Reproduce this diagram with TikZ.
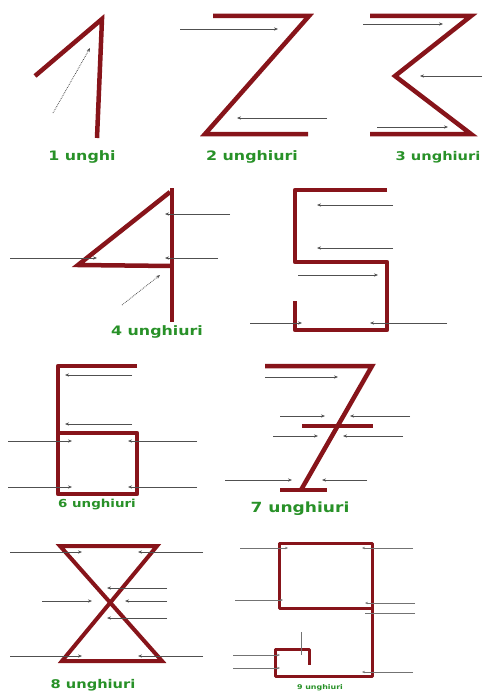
\documentclass[tikz,border=0pt]{standalone}
\usepackage{fontspec}
\usetikzlibrary{arrows.meta}
\newfontfamily\labfont[FakeStretch=1.22]{DejaVu Sans}
\definecolor{digitred}{RGB}{135,20,26}
\definecolor{guidegray}{RGB}{80,80,80}
\definecolor{labgreen}{RGB}{40,145,40}
\tikzset{
  digit/.style={draw=digitred, line width=4.5pt, line join=miter},
  rdigit/.style={digit, line join=round},
  guide/.style={draw=guidegray, line width=0.8pt, -{Stealth[length=4pt,width=3.2pt]}},
  dguide/.style={guide, densely dotted},
  sguide/.style={draw=guidegray!80, line width=0.6pt, -{Stealth[length=3pt,width=2.4pt]}},
  plainguide/.style={draw=guidegray!80, line width=0.6pt},
  lab/.style={text=labgreen, inner sep=0pt, font={\labfont\bfseries\fontsize{#1}{#1}\selectfont}},
  lab/.default=13
}
\begin{document}
\begin{tikzpicture}[x=1pt,y=-1pt]
\useasboundingbox (0,0) rectangle (482,693);
% ---- 1
\draw[digit] (35,76) -- (102,19) -- (97,138);
\draw[dguide] (53,113) -- (90,48);
\node[lab=13] (l1) at (82,157) {1 unghi};
% ---- 2
\draw[digit] (213,16) -- (309,16) -- (205,134) -- (308,134);
\draw[guide] (180,29) -- (278,29);
\draw[guide] (327,118) -- (237,118);
\node[lab=13] (l2) at (252,157) {2 unghiuri};
% ---- 3
\draw[digit] (370,16) -- (471,16) -- (395,76) -- (471,134) -- (370,134);
\draw[guide] (363,24) -- (443,24);
\draw[guide] (482,76) -- (420,76);
\draw[guide] (377,127) -- (448,127);
\node[lab=12] (l3) at (438,157) {3 unghiuri};
% ---- 4
\draw[digit] (172,188) -- (172,322);
\draw[digit] (170,192) -- (78,265) -- (172,266);
\draw[guide] (230,214) -- (165,214);
\draw[guide] (218,258) -- (165,258);
\draw[guide] (10,258) -- (97,258);
\draw[dguide] (122,305) -- (160,275);
\node[lab=13] (l4) at (157,332) {4 unghiuri};
% ---- 5
\draw[rdigit] (387,190) -- (295,190) -- (295,262) -- (387,262) -- (387,330) -- (295,330) -- (295,301);
\draw[guide] (393,205) -- (317,205);
\draw[guide] (393,248) -- (317,248);
\draw[guide] (298,275) -- (378,275);
\draw[guide] (250,323) -- (302,323);
\draw[guide] (447,323) -- (370,323);
% ---- 6
\draw[rdigit] (137,366) -- (58,366) -- (58,494) -- (137,494) -- (137,433) -- (58,433);
\draw[guide] (132,375) -- (65,375);
\draw[guide] (132,424) -- (65,424);
\draw[guide] (8,441) -- (72,441);
\draw[guide] (197,441) -- (128,441);
\draw[guide] (8,487) -- (72,487);
\draw[guide] (197,487) -- (128,487);
\node[lab=11] (l6) at (97,505) {6 unghiuri};
% ---- 7
\draw[digit, line width=4.5pt] (265,366) -- (372,366) -- (301,490);
\draw[digit, line width=4pt] (280,490) -- (327,490);
\draw[digit, line width=4pt] (302,426) -- (373,426);
\draw[guide] (265,377) -- (338,377);
\draw[guide] (280,416) -- (325,416);
\draw[guide] (410,416) -- (350,416);
\draw[guide] (273,436) -- (318,436);
\draw[guide] (403,436) -- (343,436);
\draw[guide] (225,480) -- (292,480);
\draw[guide] (367,480) -- (322,480);
\node[lab=14] (l7) at (300,509) {7 unghiuri};
% ---- 8
\draw[digit, line width=4pt] (60,546) -- (157,546) -- (62,661) -- (162,661) -- cycle;
\draw[guide] (10,552) -- (82,552);
\draw[guide] (203,552) -- (138,552);
\draw[guide] (10,656) -- (82,656);
\draw[guide] (203,656) -- (138,656);
\draw[guide] (42,601) -- (92,601);
\draw[guide] (167,601) -- (125,601);
\draw[guide] (167,588) -- (107,588);
\draw[guide] (167,618) -- (107,618);
\node[lab=12] (l8) at (93,685) {8 unghiuri};
% ---- 9
\draw[rdigit, line width=3pt] (372,608) -- (279,608) -- (279,543) -- (372,543) -- (372,676) -- (275,676) -- (275,649) -- (309,649) -- (309,665);
\draw[sguide] (240,548) -- (288,548);
\draw[sguide] (413,548) -- (362,548);
\draw[sguide] (235,600) -- (283,600);
\draw[sguide] (415,603) -- (365,603);
\draw[plainguide] (415,613) -- (365,613);
\draw[plainguide] (301,632) -- (301,655);
\draw[sguide] (233,655) -- (280,655);
\draw[sguide] (233,668) -- (280,668);
\draw[sguide] (413,672) -- (362,672);
\node[lab=6.5] (l9) at (320,688) {9 unghiuri};
\end{tikzpicture}
\end{document}
